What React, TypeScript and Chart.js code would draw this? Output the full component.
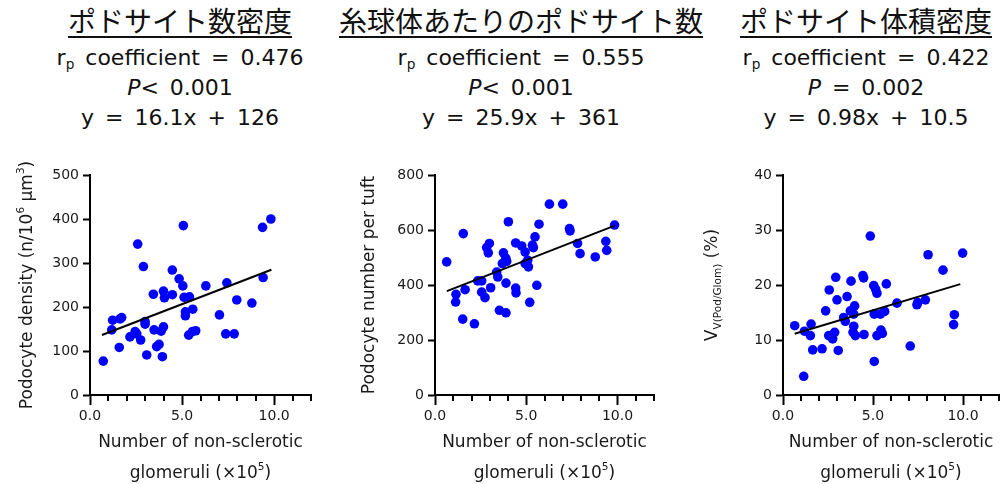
import React, { useEffect, useRef } from 'react';
import { Chart, registerables } from 'chart.js';
Chart.register(...registerables);

// ---------- data ----------
const densityX = [0.72, 1.18, 1.23, 1.63, 1.72, 1.59, 2.17, 2.45, 2.54, 2.75, 2.59, 2.9, 2.99, 2.99, 3.08, 3.44, 3.48, 3.62, 3.75, 3.86, 3.93, 3.99, 3.99, 4.04, 4.47, 4.47, 4.84, 5.04, 5.07, 5.11, 5.4, 5.18, 5.18, 5.36, 5.56, 5.74, 5.58, 6.29, 7.03, 7.43, 7.37, 7.83, 7.97, 8.79, 9.37, 9.4, 9.82];
const densityY = [77, 148, 170, 173, 176, 108, 132, 144, 139, 125, 343, 292, 167, 161, 91, 229, 148, 110, 115, 145, 87, 155, 236, 221, 228, 284, 264, 248, 385, 222, 223, 189, 180, 136, 144, 146, 195, 248, 182, 255, 139, 139, 216, 209, 381, 267, 400];

const numberX = [0.64, 1.15, 1.13, 1.65, 1.55, 1.52, 2.16, 2.34, 2.56, 2.56, 2.74, 2.83, 2.98, 2.92, 3.05, 3.38, 3.44, 3.53, 3.89, 3.75, 3.69, 3.88, 3.93, 3.89, 4.02, 4.42, 4.42, 4.44, 4.75, 4.94, 4.94, 5.12, 5.08, 5.19, 5.34, 5.39, 5.48, 5.58, 5.7, 6.27, 7.0, 7.37, 7.4, 7.81, 7.95, 8.78, 9.36, 9.41, 9.84];
const numberY = [484, 366, 338, 383, 587, 276, 259, 415, 415, 374, 354, 536, 551, 517, 390, 447, 429, 308, 299, 517, 478, 498, 486, 407, 630, 553, 389, 371, 542, 520, 478, 466, 490, 337, 545, 536, 575, 399, 621, 694, 694, 605, 597, 551, 514, 502, 559, 526, 618];

const volumeX = [0.65, 1.19, 1.15, 1.52, 1.56, 1.65, 2.17, 2.37, 2.57, 2.54, 2.76, 2.87, 2.93, 3.0, 3.07, 3.37, 3.46, 3.56, 3.74, 3.78, 3.89, 3.93, 3.93, 3.98, 4.02, 4.44, 4.48, 4.5, 4.85, 5.04, 5.15, 5.22, 5.07, 5.07, 5.22, 5.41, 5.44, 5.52, 5.65, 5.74, 6.33, 7.07, 7.44, 7.48, 7.91, 8.06, 8.89, 9.52, 9.48, 9.98];
const volumeY = [12.6, 11.6, 3.4, 10.8, 12.9, 8.2, 8.4, 15.3, 19.1, 10.8, 10.2, 11.4, 21.4, 17.3, 8.1, 14.1, 13.4, 17.9, 15.3, 20.7, 11.4, 12.5, 14.7, 16.2, 10.8, 21.7, 21.3, 11.0, 28.9, 19.9, 19.2, 18.5, 6.1, 14.7, 10.8, 14.7, 11.8, 11.2, 15.2, 20.2, 16.7, 8.9, 16.4, 16.8, 17.3, 25.5, 22.7, 14.6, 12.8, 25.8];

const slopes = [16.1, 25.9, 0.98];
const intercepts = [126, 361, 10.5];
const fitRangeX = [0.65, 9.85];

const titles = ['ポドサイト数密度', '糸球体あたりのポドサイト数', 'ポドサイト体積密度'];
const coefficients = ['0.476', '0.555', '0.422'];
const pValues = ['< 0.001', '< 0.001', ' = 0.002'];
const equations = ['y = 16.1x + 126', 'y = 25.9x + 361', 'y = 0.98x + 10.5'];

const yMax = [500, 800, 40];
const yStep = [100, 200, 10];
const xMax = 12;
const xTickStep = 1;
const xLabelEvery = 5;

type Run = { t: string; s?: 'sup' | 'sub'; i?: boolean };
const yTitles: Run[][] = [
  [{ t: 'Podocyte density (n/10' }, { t: '6', s: 'sup' }, { t: ' μm' }, { t: '3', s: 'sup' }, { t: ')' }],
  [{ t: 'Podocyte number per tuft' }],
  [{ t: 'V' }, { t: 'V(Pod/Glom)', s: 'sub' }, { t: ' (%)' }],
];
const xTitle1: Run[] = [{ t: 'Number of non-sclerotic' }];
const xTitle2: Run[] = [{ t: 'glomeruli (×10' }, { t: '5', s: 'sup' }, { t: ')' }];

// ---------- layout ----------
const FONT = '"DejaVu Sans", sans-serif';
const TEXT = '#1a1a1a';
const panels = [
  { left: 0, width: 335, yAxisW: 90, padRight: 24, yTitleOff: 62, center: 180 },
  { left: 335, width: 335, yAxisW: 100, padRight: 16, yTitleOff: 65, center: 521 },
  { left: 670, width: 335, yAxisW: 113, padRight: 6, yTitleOff: 70, center: 866 },
];
const CANVAS_TOP = 150;
const CANVAS_H = 334;

function drawRuns(ctx: CanvasRenderingContext2D, runs: Run[], cx: number, cy: number, size: number) {
  const fontFor = (r: Run) => `${r.i ? 'italic ' : ''}${r.s ? size * 0.62 : size}px ${FONT}`;
  let total = 0;
  const widths = runs.map((r) => {
    ctx.font = fontFor(r);
    const w = ctx.measureText(r.t).width;
    total += w;
    return w;
  });
  let x = cx - total / 2;
  ctx.textBaseline = 'middle';
  ctx.textAlign = 'left';
  runs.forEach((r, k) => {
    ctx.font = fontFor(r);
    const dy = r.s === 'sup' ? -size * 0.38 : r.s === 'sub' ? size * 0.3 : 0;
    ctx.fillText(r.t, x, cy + dy);
    x += widths[k];
  });
}

const richTitles = {
  id: 'richTitles',
  afterDraw(chart: any, _args: any, opts: any) {
    const { ctx, chartArea } = chart;
    const xs = chart.scales.x;
    ctx.save();
    // minor ticks
    ctx.strokeStyle = '#000';
    ctx.lineWidth = 2;
    for (let v = 0; v <= xMax; v += xTickStep) {
      if (v % xLabelEvery === 0) continue;
      const px = Math.round(xs.getPixelForValue(v));
      ctx.beginPath();
      ctx.moveTo(px, chartArea.bottom);
      ctx.lineTo(px, chartArea.bottom + 6);
      ctx.stroke();
    }
    ctx.fillStyle = TEXT;
    const cx = (chartArea.left + chartArea.right) / 2;
    drawRuns(ctx, xTitle1, cx, chartArea.bottom + 48, 17);
    drawRuns(ctx, xTitle2, cx, chartArea.bottom + 79, 17);
    ctx.translate(chartArea.left - opts.yOff, (chartArea.top + chartArea.bottom) / 2);
    ctx.rotate(-Math.PI / 2);
    drawRuns(ctx, opts.yRuns, 0, 0, 17);
    ctx.restore();
  },
};

function Panel({ idx }: { idx: number }) {
  const ref = useRef<HTMLCanvasElement>(null);
  useEffect(() => {
    const xs = [densityX, numberX, volumeX][idx];
    const ys = [densityY, numberY, volumeY][idx];
    const p = panels[idx];
    const pts = xs.map((x, k) => ({ x, y: ys[k] }));
    const fit = fitRangeX.map((x) => ({ x, y: slopes[idx] * x + intercepts[idx] }));
    const chart = new Chart(ref.current as HTMLCanvasElement, {
      type: 'scatter',
      data: {
        datasets: [
          { data: fit, showLine: true, borderColor: '#000', borderWidth: 2, pointRadius: 0, order: 0 } as any,
          { data: pts, backgroundColor: '#0000ff', borderWidth: 0, pointRadius: 4.8, order: 1 } as any,
        ],
      },
      options: {
        animation: false,
        responsive: false,
        maintainAspectRatio: false,
        layout: { padding: { top: 25, right: p.padRight, left: 0, bottom: 0 } },
        plugins: {
          legend: { display: false },
          tooltip: { enabled: false },
          richTitles: { yRuns: yTitles[idx], yOff: p.yTitleOff },
        } as any,
        scales: {
          x: {
            type: 'linear',
            min: 0,
            max: xMax,
            afterFit: (s: any) => { s.height = 89; },
            ticks: {
              stepSize: xTickStep,
              autoSkip: false,
              maxRotation: 0,
              padding: 3,
              color: TEXT,
              font: { family: FONT, size: 14 },
              callback: (v: any) => (Number(v) % xLabelEvery === 0 ? Number(v).toFixed(1) : ''),
            },
            grid: {
              drawOnChartArea: false,
              drawTicks: true,
              tickLength: 10,
              tickWidth: 2,
              tickColor: (c: any) => (c.tick && c.tick.value % xLabelEvery === 0 ? '#000' : 'rgba(0,0,0,0)'),
            },
            border: { color: '#000', width: 2 },
          },
          y: {
            type: 'linear',
            min: 0,
            max: yMax[idx],
            afterFit: (s: any) => { s.width = p.yAxisW; },
            ticks: {
              stepSize: yStep[idx],
              padding: 4,
              color: TEXT,
              font: { family: FONT, size: 14 },
            },
            grid: { drawOnChartArea: false, drawTicks: true, tickLength: 7, tickWidth: 2, tickColor: '#000' },
            border: { color: '#000', width: 2 },
          },
        },
      } as any,
      plugins: [richTitles],
    });
    return () => chart.destroy();
  }, [idx]);
  const p = panels[idx];
  return (
    <canvas
      ref={ref}
      width={p.width}
      height={CANVAS_H}
      style={{ position: 'absolute', left: p.left, top: CANVAS_TOP, width: p.width, height: CANVAS_H }}
    />
  );
}

function Header({ idx }: { idx: number }) {
  const c = panels[idx].center;
  const w = 400;
  const stat = { fontFamily: FONT, fontSize: 22, lineHeight: '30px', height: 30, wordSpacing: 4 } as any;
  return (
    <div style={{ position: 'absolute', left: c - w / 2, top: 0, width: w, textAlign: 'center', color: '#111' }}>
      <div style={{ fontFamily: '"Noto Sans CJK JP", sans-serif', fontSize: 28, lineHeight: '40px', height: 40, textDecoration: 'underline', textUnderlineOffset: 4, textDecorationThickness: 2 }}>
        {titles[idx]}
      </div>
      <div style={{ ...stat, marginTop: 3 }}>
        r<span style={{ fontSize: '0.62em', position: 'relative', top: '0.3em' }}>p</span> coefficient = {coefficients[idx]}
      </div>
      <div style={stat}>
        <i>P</i>{pValues[idx]}
      </div>
      <div style={stat}>
        {equations[idx]}
      </div>
    </div>
  );
}

export default function App() {
  return (
    <div style={{ position: 'fixed', left: 0, top: 0, width: 1005, height: 484, background: '#fff', overflow: 'hidden' }}>
      {[0, 1, 2].map((i) => (
        <React.Fragment key={i}>
          <Header idx={i} />
          <Panel idx={i} />
        </React.Fragment>
      ))}
    </div>
  );
}
